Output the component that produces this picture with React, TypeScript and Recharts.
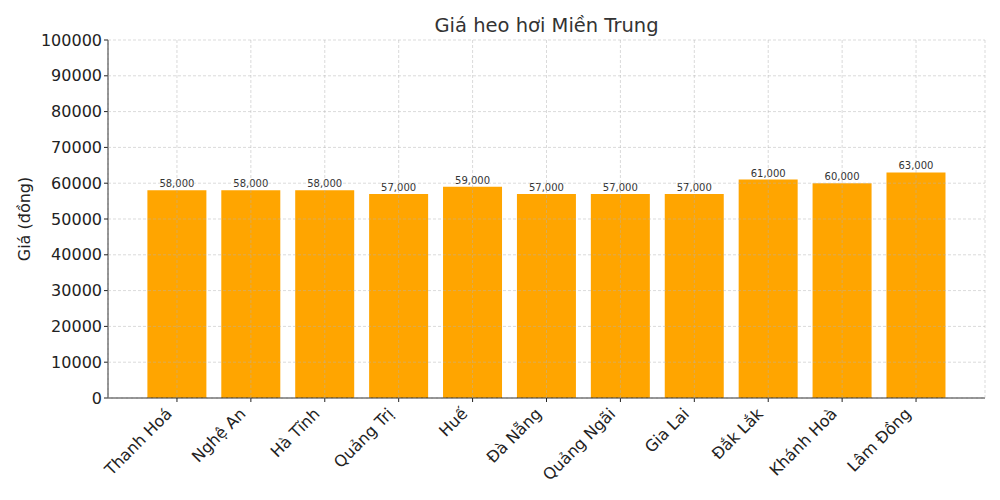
import React from "react";
import { BarChart, Bar, XAxis, YAxis, CartesianGrid, LabelList } from "recharts";

const provinces = [
  "Thanh Hoá",
  "Nghệ An",
  "Hà Tĩnh",
  "Quảng Trị",
  "Huế",
  "Đà Nẵng",
  "Quảng Ngãi",
  "Gia Lai",
  "Đắk Lắk",
  "Khánh Hoà",
  "Lâm Đồng",
];
const prices = [58000, 58000, 58000, 57000, 59000, 57000, 57000, 57000, 61000, 60000, 63000];
const yTicks = [0, 10000, 20000, 30000, 40000, 50000, 60000, 70000, 80000, 90000, 100000];

const data = provinces.map((name, i) => ({ name, price: prices[i] }));

const FONT = "'DejaVu Sans', sans-serif";
const MARGIN = { top: 40, right: 15, left: 0, bottom: 0 };
const X_PAD = { left: 32, right: 32 };

function XTick(props: any) {
  const { x, y, payload } = props;
  return (
    <g transform={`translate(${x - 8},${y + 7}) rotate(-45)`}>
      <text textAnchor="end" dominantBaseline="central" fontSize={16} fill="#222" fontFamily={FONT}>
        {payload.value}
      </text>
    </g>
  );
}

const NoTick = () => <g />;

export default function App() {
  return (
    <div style={{ position: "absolute", left: 0, top: 0, width: 1000, height: 500, background: "#fff" }}>
      <div
        style={{
          position: "absolute",
          top: 14,
          left: 108,
          width: 877,
          textAlign: "center",
          fontFamily: FONT,
          fontSize: 19.5,
          color: "#333",
        }}
      >
        Giá heo hơi Miền Trung
      </div>
      <div style={{ position: "absolute", left: 0, top: 0 }}>
        <BarChart width={1000} height={500} data={data} margin={MARGIN} barCategoryGap="10%">
          <XAxis
            dataKey="name"
            height={102}
            padding={X_PAD}
            tick={<XTick />}
            tickLine={{ stroke: "#222" }}
            tickSize={4}
            axisLine={{ stroke: "#222" }}
            interval={0}
          />
          <YAxis
            width={108}
            domain={[0, 100000]}
            ticks={yTicks}
            tickLine={{ stroke: "#222" }}
            tickSize={4}
            axisLine={{ stroke: "#222" }}
            tick={{ fontSize: 16, fill: "#222", fontFamily: FONT }}
            label={{
              value: "Giá (đồng)",
              angle: -90,
              position: "insideLeft",
              offset: 24,
              style: { textAnchor: "middle", fontSize: 16, fill: "#222", fontFamily: FONT },
            }}
          />
          <Bar dataKey="price" fill="#FFA500" isAnimationActive={false}>
            <LabelList
              dataKey="price"
              position="top"
              offset={3}
              formatter={(v: any) => Number(v).toLocaleString("en-US")}
              style={{ fontSize: 10, fill: "#333", fontFamily: FONT }}
            />
          </Bar>
        </BarChart>
      </div>
      {/* grid overlay, drawn on top of bars like the reference */}
      <div style={{ position: "absolute", left: 0, top: 0, pointerEvents: "none" }}>
        <BarChart width={1000} height={500} data={data} margin={MARGIN} barCategoryGap="10%">
          <XAxis
            dataKey="name"
            height={102}
            padding={X_PAD}
            tick={NoTick}
            tickLine={false}
            axisLine={false}
            interval={0}
          />
          <YAxis width={108} domain={[0, 100000]} ticks={yTicks} tick={NoTick} tickLine={false} axisLine={false} />
          <CartesianGrid stroke="#b0b0b0" strokeOpacity={0.6} strokeDasharray="3 2" strokeWidth={0.8} />
          <Bar dataKey="price" fill="transparent" isAnimationActive={false} />
        </BarChart>
      </div>
    </div>
  );
}
